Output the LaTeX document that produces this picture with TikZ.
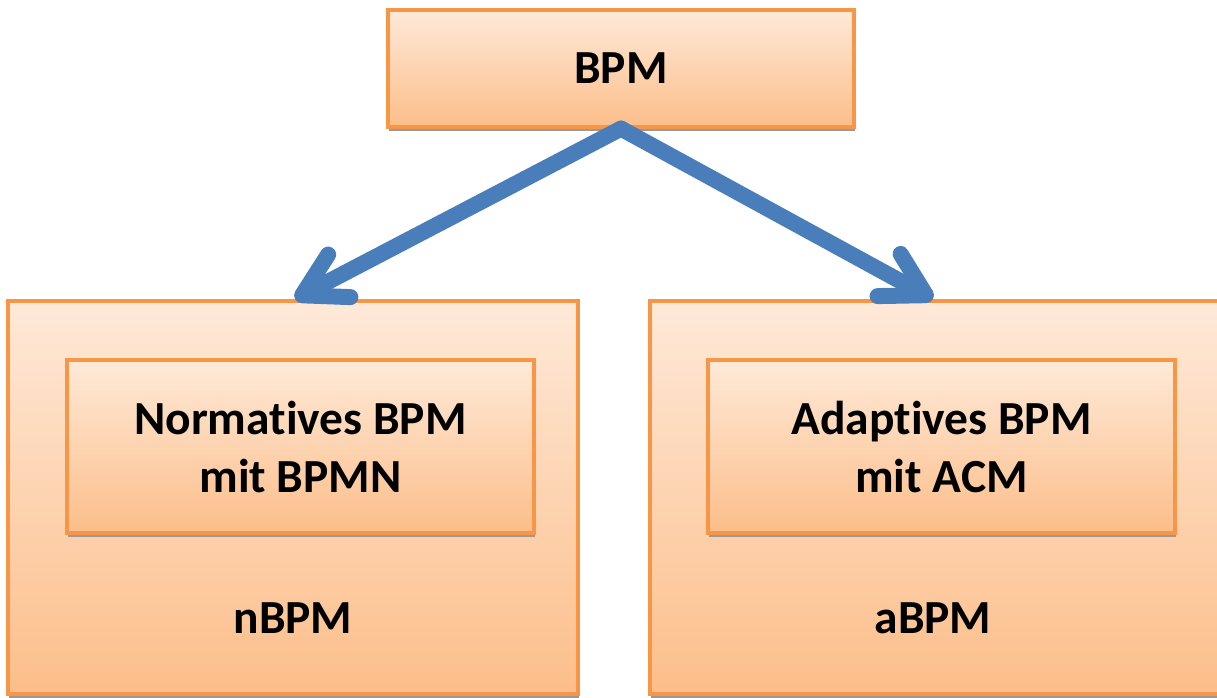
\documentclass[tikz,border=0pt]{standalone}
\usepackage{fontspec}
\setmainfont[Ligatures=NoCommon]{Carlito}
\usetikzlibrary{arrows.meta,shadows,positioning}
\definecolor{boxline}{HTML}{F79646}
\definecolor{boxtop}{HTML}{FEE9D8}
\definecolor{boxbot}{HTML}{FCBE8A}
\definecolor{arrowblue}{HTML}{4A7EBB}
\tikzset{
  obox/.style={draw=boxline, line width=3.2pt, top color=boxtop, bottom color=boxbot,
    minimum width=#1, inner sep=0pt,
    drop shadow={shadow xshift=1pt, shadow yshift=-3.5pt, fill=black!40, opacity=1}},
  lbl/.style={font=\bfseries\fontsize{47.5}{58}\selectfont, align=center, text=black},
  conn/.style={draw=arrowblue, line width=16pt, line cap=round,
    -{Straight Barb[length=42pt, width=48pt, round]}},
}
\begin{document}
\begin{tikzpicture}[x=1pt,y=-1pt]
\useasboundingbox (0,0) rectangle (1217,697);
\begin{scope}
\clip (0,0) rectangle (1217,697);
% outer boxes
\node[obox=570pt, minimum height=393pt] (left) at (293,497.5) {};
\node[obox=570pt, minimum height=393pt] (right) at (935,497.5) {};
% top box
\node[obox=466pt, minimum height=117pt] (bpm) at (621,68.5) {};
\node[lbl] at (bpm.center) {BPM};
% inner boxes
\node[obox=467pt, minimum height=173pt, lbl] (nin) at (300.5,446.5) {Normat\kern0pt ives BPM\\mit BPMN};
\node[obox=467pt, minimum height=173pt, lbl] (ain) at (941.5,446.5) {Adapt\kern0pt ives BPM\\mit ACM};
\node[lbl] (n) at (293,618) {nBPM};
\node[lbl] (a) at (933,618) {aBPM};
% connectors
\coordinate (ltip) at (295,299);
\coordinate (rtip) at (933,299);
\draw[conn] (bpm.south) -- (ltip);
\draw[conn] (bpm.south) -- (rtip);
\end{scope}
\end{tikzpicture}
\end{document}
